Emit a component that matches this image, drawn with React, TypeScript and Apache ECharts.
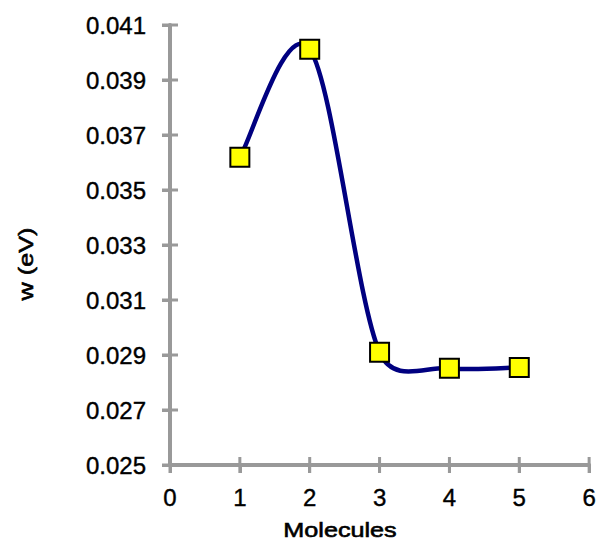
import React, { useEffect, useRef } from "react";
import * as echarts from "echarts";

const molecules = [1, 2, 3, 4, 5];
const wValues = [0.03619, 0.04012, 0.0291, 0.02852, 0.02855];
const xTickValues = [0, 1, 2, 3, 4, 5, 6];
const yTickValues = [0.025, 0.027, 0.029, 0.031, 0.033, 0.035, 0.037, 0.039, 0.041];
const xTitle = "Molecules";
const yTitle = "w (eV)";

function dist(a: number[], b: number[]) {
  return Math.hypot(b[0] - a[0], b[1] - a[1]);
}

const GRID = { left: 170, right: 9, top: 25, bottom: 80 };
const WIDTH = 599;
const HEIGHT = 545;

export default function App() {
  const ref = useRef<HTMLDivElement>(null);
  useEffect(() => {
    if (!ref.current) return;
    const chart = echarts.init(ref.current, null, { renderer: "svg" });
    const axisColor = "#999999";
    const font = "'Liberation Sans', Arial, sans-serif";
    const data = molecules.map((m, i) => [m, wValues[i]]);
    const xMin = xTickValues[0];
    const xMax = xTickValues[xTickValues.length - 1];
    const yMin = yTickValues[0];
    const yMax = yTickValues[yTickValues.length - 1];
    const lineStyle = { color: axisColor, width: 4 };
    const tickStyle = { color: axisColor, width: 3 };
    const labelBase = {
      color: "#000",
      fontSize: 24,
      fontFamily: font,
      textBorderColor: "#000",
      textBorderWidth: 0.4,
    };

    const renderCurve = (params: any, api: any) => {
      const i = params.dataIndex;
      const n = data.length;
      if (i >= n - 1) return { type: "group", children: [] };
      const pts = data.map((d) => api.coord(d));
      const p1 = pts[i];
      const p2 = pts[i + 1];
      const p0 = i > 0 ? pts[i - 1] : p1;
      const p3 = i + 2 < n ? pts[i + 2] : p2;
      const d02 = dist(p0, p2);
      const d12 = dist(p1, p2);
      const d13 = dist(p1, p3);
      let f0 = 1 / 6;
      let f1 = 1 / 6;
      if (!(d02 / 6 < d12 / 2 && d13 / 6 < d12 / 2)) {
        f0 = d02 / 6 >= d12 / 2 ? d12 / d02 / 2 : 1 / 6;
        f1 = d13 / 6 >= d12 / 2 ? d12 / d13 / 2 : 1 / 6;
      }
      const cp1 = [p1[0] + (p2[0] - p0[0]) * f0, p1[1] + (p2[1] - p0[1]) * f0];
      const cp2 = [p2[0] - (p3[0] - p1[0]) * f1, p2[1] - (p3[1] - p1[1]) * f1];
      return {
        type: "bezierCurve",
        shape: {
          x1: p1[0],
          y1: p1[1],
          cpx1: cp1[0],
          cpy1: cp1[1],
          cpx2: cp2[0],
          cpy2: cp2[1],
          x2: p2[0],
          y2: p2[1],
        },
        style: { stroke: "#000080", lineWidth: 4.5, fill: "none", lineCap: "round" },
      };
    };

    const tickLen = 8;
    const renderTicks = (_params: any, api: any) => {
      const children: any[] = [];
      xTickValues.forEach((t) => {
        const p = api.coord([t, yMin]);
        children.push({
          type: "line",
          shape: { x1: p[0], y1: p[1] - tickLen, x2: p[0], y2: p[1] + tickLen },
          style: { stroke: axisColor, lineWidth: 3 },
        });
      });
      yTickValues.forEach((t) => {
        const p = api.coord([xMin, t]);
        children.push({
          type: "line",
          shape: { x1: p[0] - tickLen, y1: p[1], x2: p[0] + tickLen, y2: p[1] },
          style: { stroke: axisColor, lineWidth: 3 },
        });
      });
      return { type: "group", children };
    };

    chart.setOption({
      animation: false,
      grid: { ...GRID, containLabel: false },
      xAxis: {
        type: "value",
        min: xMin,
        max: xMax,
        interval: xTickValues[1] - xTickValues[0],
        splitLine: { show: false },
        axisLine: { show: true, onZero: false, lineStyle },
        axisTick: { show: true, inside: false, length: tickLen, lineStyle: tickStyle },
        axisLabel: { ...labelBase, margin: 20 },
      },
      yAxis: {
        type: "value",
        min: yMin,
        max: yMax,
        interval: 0.002,
        splitLine: { show: false },
        axisLine: { show: true, onZero: false, lineStyle },
        axisTick: { show: true, inside: false, length: tickLen, lineStyle: tickStyle },
        axisLabel: {
          ...labelBase,
          margin: 24,
          formatter: (v: number) => v.toFixed(3),
        },
      },
      series: [
        {
          type: "custom",
          data: [[xMin, yMin]],
          encode: { x: 0, y: 1 },
          renderItem: renderTicks,
          clip: false,
          silent: true,
          z: 1,
        },
        {
          type: "custom",
          data,
          encode: { x: 0, y: 1 },
          renderItem: renderCurve,
          clip: false,
          z: 3,
        },
        {
          type: "scatter",
          data,
          symbol: "rect",
          symbolSize: 19,
          itemStyle: { color: "#ffff00", borderColor: "#000000", borderWidth: 2, opacity: 1 },
          z: 5,
        },
      ],
      graphic: [
        {
          type: "text",
          x: 340,
          y: 530,
          scaleX: 1.2,
          style: {
            text: xTitle,
            fontSize: 21,
            fontFamily: font,
            fill: "#000",
            stroke: "#000",
            lineWidth: 0.6,
            align: "center",
            verticalAlign: "middle",
          },
        },
        {
          type: "text",
          x: 26,
          y: 264,
          rotation: Math.PI / 2,
          scaleX: 1.2,
          style: {
            text: yTitle,
            fontSize: 21,
            fontFamily: font,
            fill: "#000",
            stroke: "#000",
            lineWidth: 0.6,
            align: "center",
            verticalAlign: "middle",
          },
        },
      ],
    });
    return () => chart.dispose();
  }, []);
  return (
    <div
      ref={ref}
      style={{ position: "fixed", left: 0, top: 0, width: WIDTH, height: HEIGHT, background: "#fff" }}
    />
  );
}
